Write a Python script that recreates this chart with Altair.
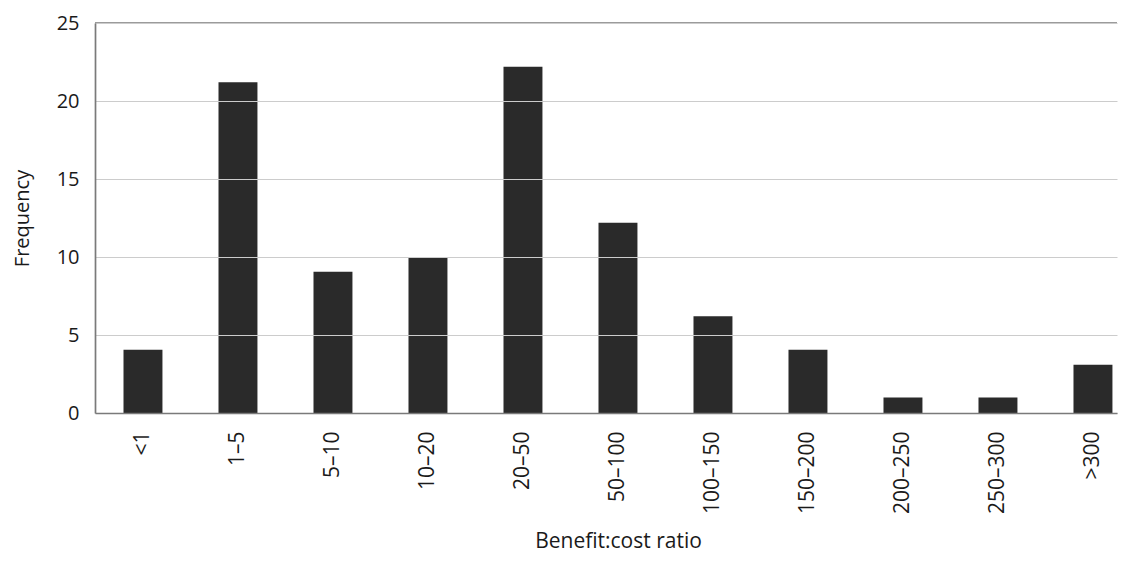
import altair as alt
import pandas as pd

categories = ["<1", "1–5", "5–10", "10–20", "20–50", "50–100", "100–150",
              "150–200", "200–250", "250–300", ">300"]
frequency = [4.05, 21.2, 9.05, 10.0, 22.2, 12.2, 6.2, 4.05, 1.0, 1.0, 3.1]
y_ticks = [0, 5, 10, 15, 20, 25]

df = pd.DataFrame({"ratio": categories, "freq": frequency})

FONT = "Open Sans"

x_enc = alt.X(
    "ratio:N",
    sort=categories,
    title="Benefit:cost ratio",
    scale=alt.Scale(paddingInner=0.59, paddingOuter=0.174, align=0.862, round=False),
    axis=alt.Axis(
        labelAngle=-90,
        labelFont=FONT,
        labelFontSize=21,
        labelColor="#1a1a1a",
        labelPadding=18,
        ticks=False,
        domainColor="#7a7a7a",
        domainWidth=1.7,
        titleFont=FONT,
        titleFontSize=21,
        titleFontWeight="normal",
        titleColor="#1a1a1a",
        titlePadding=17,
        titleX=523,
        zindex=1,
    ),
)

y_enc = alt.Y(
    "freq:Q",
    title="Frequency",
    scale=alt.Scale(domain=[0, 25], nice=False),
    axis=alt.Axis(
        values=y_ticks,
        labelFont=FONT,
        labelFontSize=20,
        labelColor="#1a1a1a",
        labelPadding=16,
        ticks=False,
        domainColor="#7a7a7a",
        domainWidth=1.7,
        grid=True,
        gridColor="#cccccc",
        gridWidth=1,
        titleFont=FONT,
        titleFontSize=20,
        titleFontWeight="normal",
        titleColor="#1a1a1a",
        titlePadding=24,
        zindex=1,
    ),
)

bars = alt.Chart(df).mark_bar(color="#2a2a2a").encode(x=x_enc, y=y_enc)

top_frame = alt.Chart(pd.DataFrame({"top": [y_ticks[-1]]})).mark_rule(
    color="#7a7a7a", strokeWidth=1.7
).encode(y=alt.Y("top:Q"))

chart = (
    alt.layer(bars, top_frame)
    .properties(
        width=1022,
        height=390,
        padding={"left": 4, "top": 5, "right": 0, "bottom": 4},
    )
    .configure_view(stroke=None)
)

chart.save("out.html", embed_options={"renderer": "svg", "actions": False})
